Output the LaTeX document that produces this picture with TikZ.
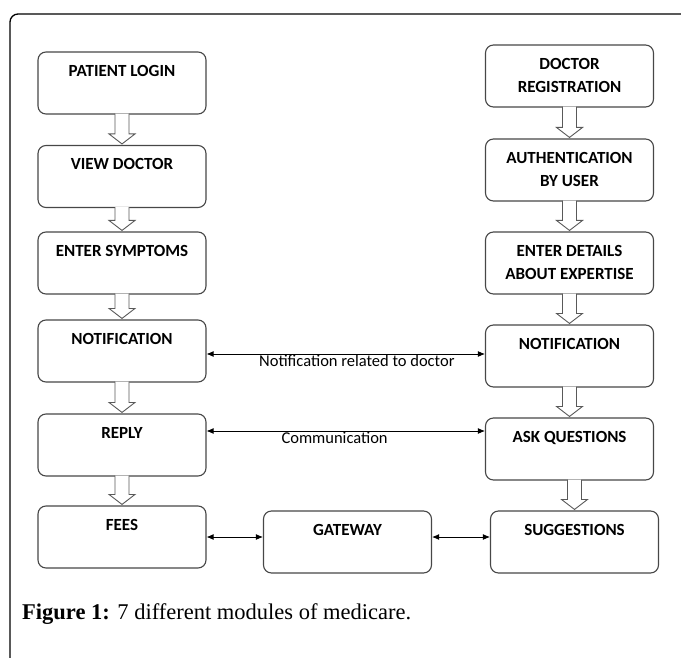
\documentclass[tikz,border=0pt]{standalone}
\usepackage{fontspec}
\setmainfont{Liberation Serif}
\newfontfamily\carlito{Carlito}
\usepackage{tikz}
\usetikzlibrary{arrows.meta,calc,positioning}

% hollow block arrow from one module down to the next
\newcommand{\hollow}[2]{
\draw[harrow] ($(#1.south -| #2.north)+(-7,-1)$) -- ($(#2.north)+(-7,-11)$) -- ($(#2.north)+(-13,-11)$)
 -- ($(#2.north)+(0,-1)$) -- ($(#2.north)+(13,-11)$) -- ($(#2.north)+(7,-11)$) -- ($(#1.south -| #2.north)+(7,-1)$);
}

\begin{document}
\begin{tikzpicture}[x=1pt,y=-1pt,
  module/.style={draw=black!72, line width=1.1pt, rounded corners=8pt,
    minimum width=168pt, minimum height=62pt, inner sep=0pt,
    label={[mtext]north:#1}},
  mtext/.style={anchor=north, yshift=-10pt, align=center,
    font=\carlito\bfseries\fontsize{17}{23}\selectfont},
  harrow/.style={draw=black!65, fill=white, line width=0.9pt},
  link/.style={{Latex[length=7pt,width=6pt]}-{Latex[length=7pt,width=6pt]}, line width=0.9pt},
  linktext/.style={font=\carlito\fontsize{16.5}{18}\selectfont, inner sep=1pt}]
\useasboundingbox (0,0) rectangle (681,658);

% frame
\draw[line width=1.3pt, rounded corners=8pt] (10,670) -- (10,14) -- (700,14);

% patient side
\node[module={PATIENT LOGIN}] (plogin) at (122,83) {};
\node[module={VIEW DOCTOR}] (view) at (122,176.5) {};
\node[module={ENTER SYMPTOMS}] (symp) at (122,263) {};
\node[module={NOTIFICATION}] (pnotif) at (122,351) {};
\node[module={REPLY}] (reply) at (122,445) {};
\node[module={FEES}] (fees) at (122,537) {};

% doctor side
\node[module={DOCTOR\\REGISTRATION}] (dreg) at (569.5,76) {};
\node[module={AUTHENTICATION\\BY USER}] (auth) at (569.5,170) {};
\node[module={ENTER DETAILS\\ABOUT EXPERTISE}] (expert) at (569.5,263) {};
\node[module={NOTIFICATION}] (dnotif) at (569.5,356) {};
\node[module={ASK QUESTIONS}] (ask) at (569.5,449) {};
\node[module={SUGGESTIONS}] (sugg) at (574.5,542) {};

\node[module={GATEWAY}] (gate) at (347.5,542) {};

\hollow{plogin}{view}
\hollow{view}{symp}
\hollow{symp}{pnotif}
\hollow{pnotif}{reply}
\hollow{reply}{fees}
\hollow{dreg}{auth}
\hollow{auth}{expert}
\hollow{expert}{dnotif}
\hollow{dnotif}{ask}
\hollow{ask}{sugg}

\draw[link] ($(pnotif.east)+(0,3)$) -- ($(pnotif.east -| dnotif.west)+(0,3)$)
  node[linktext, below, pos=0.54] {Notification related to doctor};
\draw[link] ($(reply.east)+(0,-14)$) -- ($(reply.east -| ask.west)+(0,-14)$)
  node[linktext, below, pos=0.46] {Communication};
\draw[link] (fees.east) -- (fees.east -| gate.west);
\draw[link] (fees.east -| gate.east) -- (fees.east -| sugg.west);

\node[anchor=base west, inner sep=0pt, font=\fontsize{22.5}{26}\selectfont] (caption) at (22,619)
  {\textbf{Figure 1:} 7 different modules of medicare.};
\end{tikzpicture}
\end{document}
